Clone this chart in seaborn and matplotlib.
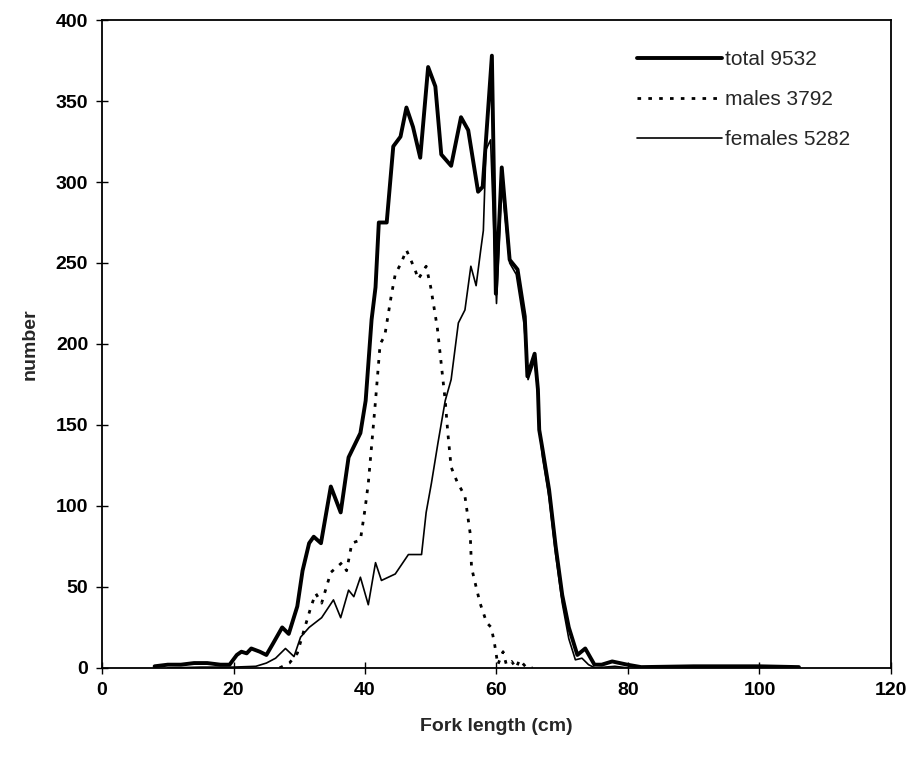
import pandas as pd
import matplotlib.pyplot as plt
import seaborn as sns

# values (fork length in cm, number of fish)
total_x = [8, 10, 12, 14, 16, 18, 19.4, 20.5, 21.2, 22, 22.7, 24, 25, 26, 27.4, 28.4,
           29.7, 30.5, 31.5, 32.2, 33.3, 34.8, 36.3, 37.5, 39.3, 40.1, 41, 41.6, 42.1,
           43.3, 44.3, 45.4, 46.3, 47.3, 48.4, 49.6, 50.7, 51.6, 53.1, 54.6, 55.7, 57.2,
           57.9, 59.3, 59.9, 60.8, 62.0, 63.2, 64.3, 64.7, 65.8, 66.3, 66.5, 67, 68, 69,
           70, 71, 72.3, 73.5, 74.9, 76, 77.6, 79.9, 82, 90, 100, 106]
total_y = [1, 2, 2, 3, 3, 2, 2, 8, 10, 9, 12, 10, 8, 15, 25, 21,
           38, 60, 77, 81, 77, 112, 96, 130, 145, 165, 215, 235, 275,
           275, 322, 328, 346, 334, 315, 371, 359, 317, 310, 340, 332, 294,
           297, 378, 231, 309, 252, 246, 217, 180, 194, 172, 147, 135, 110, 75,
           45, 25, 8, 12, 2, 2, 4, 2, 0.5, 1, 1, 0.5]

males_x = [27, 28.5, 29.7, 30.7, 31.8, 32.5, 33.4, 34.8, 36.5, 37.2, 38, 39.3, 40,
           40.5, 41, 41.6, 42.3, 43, 44, 44.6, 45.5, 46.3, 47.6, 48.1, 49.3, 50, 51,
           51.8, 52.2, 52.6, 53.1, 54, 55.2, 56, 56.2, 56.9, 57.5, 58.5, 59.2, 59.7,
           60.2, 61, 61.5, 62.3, 63, 63.5, 64.6, 65.5]
males_y = [0, 3, 9, 23, 38, 46, 40, 59, 65, 60, 77, 79, 98,
           114, 137, 165, 200, 205, 230, 243, 250, 258, 246, 240, 248, 235, 210,
           180, 165, 145, 124, 115, 106, 83, 62, 50, 40, 28, 25, 15,
           2, 10, 2, 4, 0, 5, 0, 0]

females_x = [10, 15, 20, 23.4, 25, 26.4, 27.9, 29.2, 30.2, 31.5, 33.4, 35.2, 36.3,
             37.5, 38.3, 39.3, 40.5, 41.6, 42.5, 44.6, 46.6, 48.6, 49.3, 50.1, 51.1,
             52.2, 53.1, 54.2, 55.2, 56.1, 56.9, 57.6, 58, 58.4, 59.1, 60.0, 60.8,
             62, 63, 64.2, 64.8, 65.8, 66.3, 66.6, 67, 68, 69, 70, 71, 72, 73, 74,
             75, 78, 80]
females_y = [0, 0.5, 0.5, 1, 3, 6, 12, 7, 19, 25, 31, 42, 31,
             48, 44, 56, 39, 65, 54, 58, 70, 70, 96, 114, 139,
             165, 178, 213, 221, 248, 236, 258, 270, 320, 326, 225, 300,
             250, 243, 212, 178, 190, 170, 145, 130, 105, 70, 40, 18, 5, 6, 2,
             0, 1, 0]

labels = ["total 9532", "males 3792", "females 5282"]

sns.set_style("ticks")
plt.rcParams['font.family'] = ['Liberation Sans', 'DejaVu Sans']

fig = plt.figure(figsize=(9.11, 7.59), dpi=100)
ax = fig.add_axes([0.112, 0.12, 0.866, 0.8536])

sns.lineplot(x=total_x, y=total_y, ax=ax, color='black', linewidth=2.8,
             sort=False, estimator=None, label=labels[0])
sns.lineplot(x=males_x, y=males_y, ax=ax, color='black', linewidth=2.0,
             linestyle=(0, (1.3, 2.6)), sort=False, estimator=None, label=labels[1])
sns.lineplot(x=females_x, y=females_y, ax=ax, color='black', linewidth=1.2,
             sort=False, estimator=None, label=labels[2])

ax.set_xlim(0, 120)
ax.set_ylim(0, 400)
ax.set_xticks(range(0, 121, 20))
ax.set_yticks(range(0, 401, 50))
ax.tick_params(direction='inout', length=8, width=1, labelsize=14, pad=6, colors='black')
for lab in ax.get_xticklabels() + ax.get_yticklabels():
    lab.set_fontweight('bold')
for s in ax.spines.values():
    s.set_visible(True)
    s.set_linewidth(1.3)
    s.set_color('black')

ax.set_xlabel("Fork length (cm)", fontsize=14, fontweight='bold', labelpad=14)
ax.set_ylabel("number", fontsize=14, fontweight='bold', labelpad=12)

leg = ax.legend(loc='upper left', bbox_to_anchor=(0.678, 0.953), frameon=False,
                fontsize=15, handlelength=4.1, handletextpad=0.15,
                labelspacing=1.0, borderpad=0, borderaxespad=0)

plt.savefig("out.png", dpi=100)
